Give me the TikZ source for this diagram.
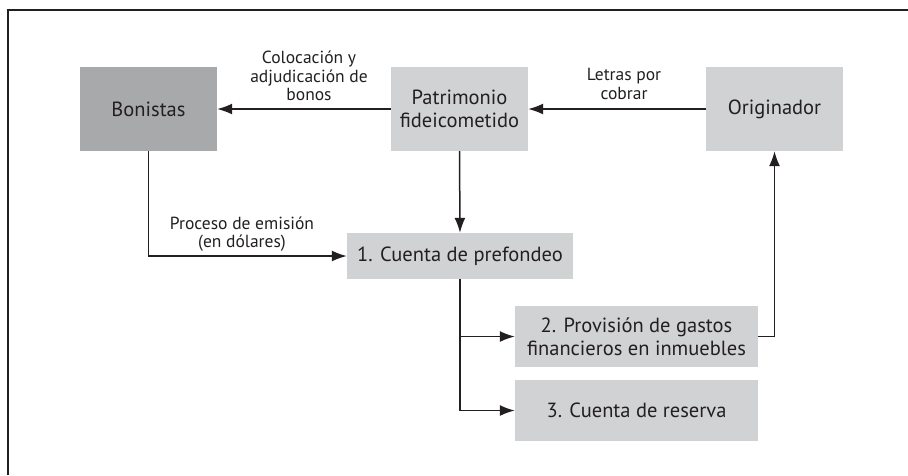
\documentclass[tikz,border=0pt]{standalone}
\usepackage{fontspec}
\usetikzlibrary{arrows.meta}
\setmainfont{PT Sans}
\definecolor{boxgray}{RGB}{209,210,212}
\definecolor{darkbox}{RGB}{168,169,171}
\definecolor{ink}{RGB}{35,31,32}
\tikzset{
  caja/.style={rectangle,fill=boxgray,text=ink,align=center,minimum width=137pt,minimum height=84pt,inner sep=0pt,font=\fontsize{20.5}{23}\selectfont},
  cuenta/.style={caja,minimum height=61pt,minimum width=243pt},
  rotulo/.style={text=ink,align=center,inner sep=0pt,font=\fontsize{17.5}{18.5}\selectfont},
  flecha/.style={-{Latex[length=15pt,width=11pt]},draw=ink,line width=1.5pt}
}
\begin{document}
\begin{tikzpicture}[x=1pt,y=-1pt]
    \useasboundingbox(0,0)rectangle(908,475);
    \draw[ink,line width=1.4pt](8,475)--(8,10)--(908,10);
    \node[caja,fill=darkbox](bon) at (148.5,109){Bonistas};
    \node[caja](pat) at (459.5,109){Patrimonio\\fideicometido};
    \node[caja](ori) at (774.5,109){Originador};
    \node[caja,minimum width=226pt,minimum height=46pt](pre) at (460,256){1. Cuenta de prefondeo};
    \node[cuenta](pro) at (636.5,336.5){2. Provisión de gastos\\financieros en inmuebles};
    \node[cuenta](res) at (636.5,410.5){3. Cuenta de reserva};
    \draw[flecha](pat)--(bon);
    \draw[flecha](ori)--(pat);
    \draw[flecha](pat.south)--(pre.north);
    \draw[flecha](bon.south)|-(pre.west);
    \draw[flecha](pre.south)|-(res.west);
    \draw[flecha](pre.south|-pro.west)--(pro.west);
    \draw[flecha](pro.east)-|(ori.south);
    \node[rotulo](col) at (309,76){Colocación y\\adjudicación de\\bonos};
    \node[rotulo](let) at (624,84){Letras por\\cobrar};
    \node[rotulo](emi) at (242,234){Proceso de emisión\\(en dólares)};
\end{tikzpicture}
\end{document}
